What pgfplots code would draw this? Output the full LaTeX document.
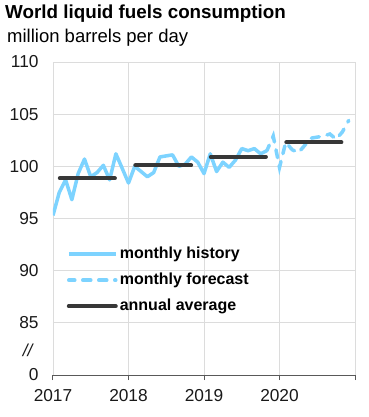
\documentclass[border=0pt]{standalone}
\usepackage{pgfplots}
\pgfplotsset{compat=1.18}
\usepackage{fontspec}
\setmainfont{Liberation Sans}
\definecolor{histblue}{RGB}{125,211,255}
\definecolor{avggray}{RGB}{55,55,55}
\definecolor{gridgray}{RGB}{220,220,220}
\begin{document}
\begin{tikzpicture}[x=1bp,y=1bp]
\path[use as bounding box] (0,0) rectangle (369,417);
\node[anchor=base west, inner sep=0, font=\fontsize{18.8bp}{20bp}\selectfont\bfseries] at (5,398) {World liquid fuels consumption};
\node[anchor=base west, inner sep=0, font=\fontsize{18.5bp}{20bp}\selectfont] at (7,375) {million barrels per day};
\begin{axis}[
  at={(53bp,42bp)}, anchor=south west,
  scale only axis, width=302bp, height=313bp,
  xmin=2017, xmax=2021, ymin=80, ymax=110,
  xtick={2017,2018,2019,2020,2021},
  xticklabels={2017,2018,2019,2020,{}},
  ytick={80,85,90,95,100,105,110},
  yticklabels={0,85,90,95,100,105,110},
  extra y ticks={82.4}, extra y tick labels={\itshape //},
  extra y tick style={grid=none, yticklabel style={xshift=-6bp}},
  axis x line*=bottom, axis y line*=left,
  x axis line style={draw=black!65, line width=1bp, -},
  y axis line style={draw=none},
  xtick style={draw=black!65, line width=1bp},
  ytick style={draw=none},
  tick align=outside, major tick length=5bp,
  grid=major, grid style={draw=gridgray, line width=0.9bp},
  ticklabel style={font=\fontsize{17.3bp}{19bp}\selectfont, text=black!90},
  /pgf/number format/assume math mode=true,
  yticklabel style={xshift=-6bp},
  xticklabel style={yshift=-6bp},
  unbounded coords=jump,
  legend cell align=left,
  legend style={at={(rel axis cs:0.045,0.409)}, anchor=north west, draw=none, fill=none,
    inner sep=0pt, row sep=12bp,
    nodes={font=\fontsize{16bp}{18bp}\selectfont\bfseries, text height=11bp, text depth=3bp, inner sep=0pt},
    /tikz/every odd column/.style={column sep=2bp}},
  legend image code/.code={\draw[#1] (0bp,0bp) -- (47bp,0bp);},
]
\addplot[histblue, line width=3.5bp, line join=round] coordinates {
(2017.000,95.3) (2017.083,97.5) (2017.167,98.7) (2017.250,96.8) (2017.333,99.3) (2017.417,100.7)
(2017.500,99.0) (2017.583,99.4) (2017.667,100.1) (2017.750,98.7) (2017.833,101.2) (2017.917,99.8)
(2018.000,98.4) (2018.083,100.0) (2018.167,99.5) (2018.250,99.0) (2018.333,99.4) (2018.417,100.9)
(2018.500,101.0) (2018.583,101.1) (2018.667,100.0) (2018.750,100.2) (2018.833,100.9) (2018.917,100.4)
(2019.000,99.3) (2019.083,101.2) (2019.167,99.5) (2019.250,100.4) (2019.333,99.9) (2019.417,100.6)
(2019.500,101.7) (2019.583,101.5) (2019.667,101.7) (2019.750,101.2) (2019.833,101.5)
};
\addlegendentry{monthly history}
\addplot[histblue, line width=3.5bp, line cap=round, dash pattern=on 8bp off 8bp, dash phase=2bp] coordinates {
(2019.833,101.5) (2019.917,102.9) (2020.000,99.9) (2020.083,102.3) (2020.167,101.6) (2020.250,101.3)
(2020.333,102.0) (2020.417,102.7) (2020.500,102.8) (2020.583,102.9) (2020.667,103.1) (2020.750,102.6)
(2020.833,103.3) (2020.917,104.4)
};
\addlegendentry{monthly forecast}
\addplot[avggray, line width=4bp, line cap=round] table[row sep=\\] {
x y\\
2017.09 98.85\\ 2017.82 98.85\\ 2017.9 nan\\
2018.09 100.1\\ 2018.83 100.1\\ 2018.9 nan\\
2019.09 100.9\\ 2019.82 100.9\\ 2019.9 nan\\
2020.09 102.3\\ 2020.82 102.3\\
};
\addlegendentry{annual average}
\end{axis}
\end{tikzpicture}
\end{document}
